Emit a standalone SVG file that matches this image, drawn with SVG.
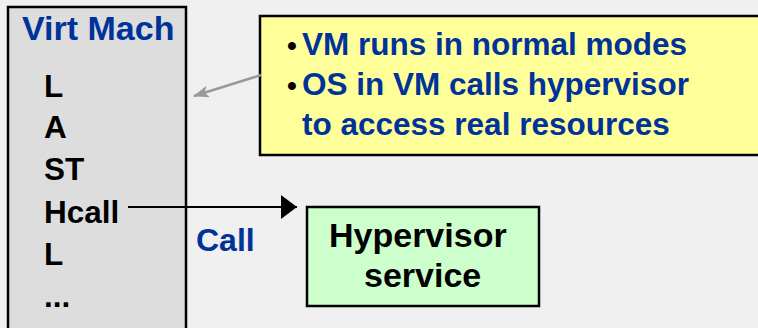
<svg xmlns="http://www.w3.org/2000/svg" width="758" height="328" viewBox="0 0 758 328">
  <defs>
    <style>
      .t { font-family: "Liberation Sans", Arial, Helvetica, sans-serif; font-weight: bold; }
      .blue { fill: #003399; }
      .blk { fill: #000000; }
      .box { stroke: #000000; stroke-width: 2.5; }
    </style>
    <marker id="ahGray" markerWidth="16" markerHeight="12" refX="15" refY="6" orient="auto" markerUnits="userSpaceOnUse">
      <path d="M0,0 L16,6 L0,12 L4,6 Z" fill="#999999"/>
    </marker>
    <marker id="ahBlack" markerWidth="16" markerHeight="24" refX="16" refY="12" orient="auto" markerUnits="userSpaceOnUse">
      <path d="M0,0 L16,12 L0,24 Z" fill="#000000"/>
    </marker>
  </defs>
  <rect x="0" y="0" width="758" height="328" fill="#f0f0f0"/>

  <g id="vm">
    <rect class="box" x="8" y="7" width="178" height="340" fill="#dddddd"/>
    <text class="t blue" x="22" y="40" font-size="34">Virt Mach</text>
    <text class="t blk" x="44" y="97" font-size="31.5">L</text>
    <text class="t blk" x="44" y="138" font-size="31.5">A</text>
    <text class="t blk" x="44" y="180" font-size="31.5">ST</text>
    <text class="t blk" x="44" y="223" font-size="31.5">Hcall</text>
    <text class="t blk" x="44" y="265" font-size="31.5">L</text>
    <text class="t blk" x="44" y="307" font-size="31.5">...</text>
  </g>

  <g id="note">
    <rect class="box" x="260" y="16" width="520" height="139" fill="#ffff99"/>
    <text class="t blk" x="287" y="55" font-size="28">•</text>
    <text class="t blue" x="302" y="55" font-size="31.5">VM runs in normal modes</text>
    <text class="t blk" x="287" y="95" font-size="28">•</text>
    <text class="t blue" x="302" y="95" font-size="31.5">OS in VM calls hypervisor</text>
    <text class="t blue" x="302" y="135" font-size="31.5">to access real resources</text>
  </g>

  <g id="hypervisor">
    <rect class="box" x="307" y="207" width="232" height="99" fill="#ccffcc"/>
    <text class="t blk" x="329" y="247" font-size="34">Hypervisor</text>
    <text class="t blk" x="364" y="287" font-size="34">service</text>
  </g>

  <g id="connectors">
    <line x1="261" y1="75" x2="194" y2="96" stroke="#999999" stroke-width="2.5" marker-end="url(#ahGray)"/>
    <line x1="128" y1="207" x2="297" y2="207" stroke="#000000" stroke-width="2" marker-end="url(#ahBlack)"/>
    <text class="t blue" x="196" y="251" font-size="32">Call</text>
  </g>
</svg>
